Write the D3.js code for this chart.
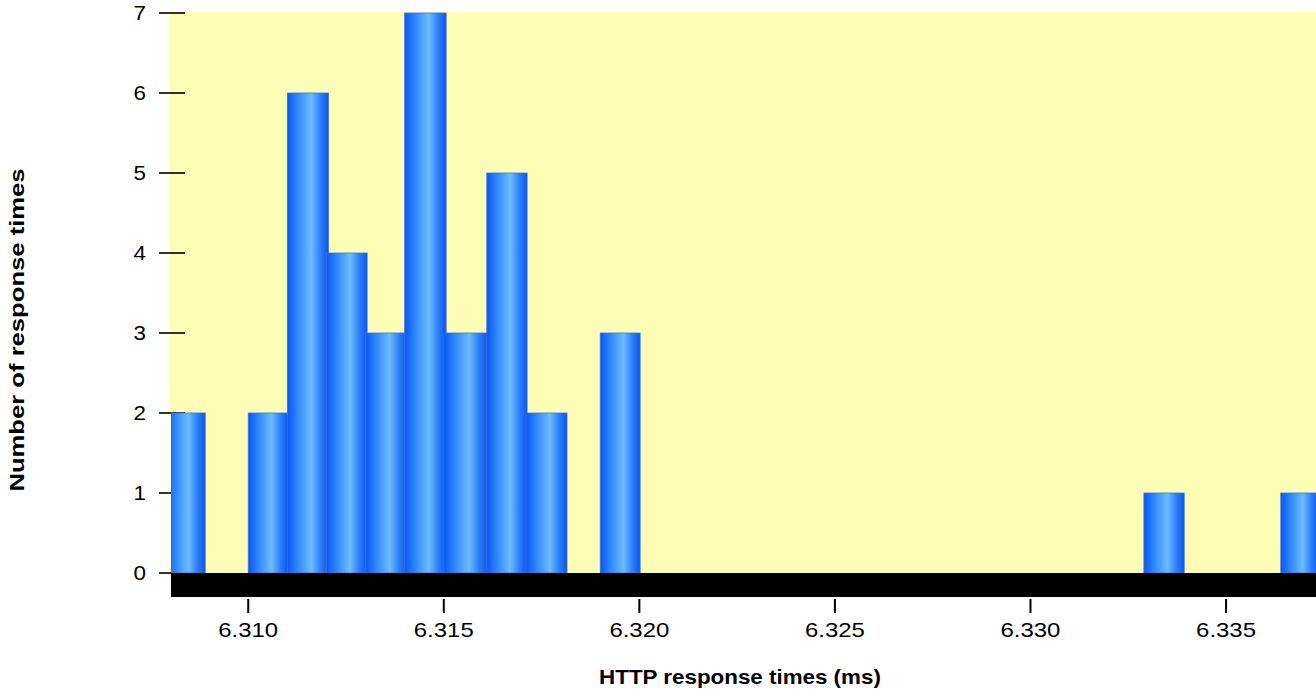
<!DOCTYPE html>
<html>
<head>
<meta charset="utf-8">
<script src="https://cdn.jsdelivr.net/npm/d3@7/dist/d3.min.js"></script>
<style>
  html, body { margin: 0; padding: 0; background: #ffffff; overflow: hidden; }
  svg { display: block; }
  text { font-family: "Liberation Sans", Arial, Helvetica, sans-serif; fill: #000; }
</style>
</head>
<body>
<svg id="chart" width="1316" height="693"></svg>
<script>
// ---- data ----
const binStart = [6.30788, 6.3100, 6.3110, 6.3120, 6.3130, 6.3140, 6.3150, 6.3161, 6.3171, 6.3190, 6.3329, 6.3364];
const binEnd   = [6.30890, 6.31102, 6.31205, 6.31304, 6.31406, 6.31506, 6.31611, 6.31713, 6.31815, 6.32002, 6.33393, 6.33737];
const counts   = [2, 2, 6, 4, 3, 7, 3, 5, 2, 3, 1, 1];
const xTickValues = [6.310, 6.315, 6.320, 6.325, 6.330, 6.335];
const yTickValues = [0, 1, 2, 3, 4, 5, 6, 7];
const xTitle = "HTTP response times (ms)";
const yTitle = "Number of response times";

(function () {
const bars = binStart.map((s, i) => ({ x0: s, x1: binEnd[i], n: counts[i] }));

const svg = d3.select("#chart");
const pLeft = 170, pRight = 1316, pTop = 13, pBottom = 573;

const x = d3.scaleLinear().domain([6.308, 6.3373]).range([pLeft, pRight]);
const y = d3.scaleLinear().domain([0, 7]).range([pBottom, pTop]);

// stretch text along its baseline (reference glyphs are wider than plain Arial)
function widen(sel, factor) {
  sel.each(function () {
    const w = this.getComputedTextLength();
    d3.select(this).attr("textLength", w * factor).attr("lengthAdjust", "spacingAndGlyphs");
  });
}

const defs = svg.append("defs");
const grad = defs.append("linearGradient").attr("id", "barGrad")
  .attr("x1", "0%").attr("x2", "100%").attr("y1", "0%").attr("y2", "0%");
[["0%", "#0a56f5"], ["25%", "#2f86fb"], ["58%", "#6cbcff"], ["80%", "#2f80f8"], ["100%", "#0b55ee"]]
  .forEach(([o, c]) => grad.append("stop").attr("offset", o).attr("stop-color", c));

defs.append("clipPath").attr("id", "plotClip")
  .append("rect").attr("x", pLeft + 1).attr("y", 0).attr("width", pRight - pLeft).attr("height", pBottom);

// plot background
svg.append("rect").attr("x", pLeft).attr("y", pTop - 1)
  .attr("width", pRight - pLeft).attr("height", pBottom - pTop + 1)
  .attr("fill", "#fdfdb5");

// y axis ticks and labels
const yAxis = svg.append("g");
yAxis.selectAll("line").data(yTickValues).join("line")
  .attr("x1", 159).attr("x2", 185)
  .attr("y1", d => y(d)).attr("y2", d => y(d))
  .attr("stroke", "#000").attr("stroke-width", 1.6);
yAxis.selectAll("text").data(yTickValues).join("text")
  .attr("x", 146).attr("y", d => y(d)).attr("dy", "0.36em")
  .attr("text-anchor", "end").attr("font-size", 20)
  .text(d => d)
  .call(widen, 1.12);

// bars
svg.append("g").attr("clip-path", "url(#plotClip)")
  .selectAll("rect").data(bars).join("rect")
  .attr("x", d => x(d.x0)).attr("width", d => x(d.x1) - x(d.x0))
  .attr("y", d => y(d.n)).attr("height", d => y(0) - y(d.n))
  .attr("fill", "url(#barGrad)")
  .attr("stroke", "#3f6fd8").attr("stroke-width", 0.8);

// black axis band
svg.append("rect").attr("x", pLeft + 1).attr("y", pBottom)
  .attr("width", pRight - pLeft).attr("height", 24).attr("fill", "#000");

// x axis ticks and labels
const xAxis = svg.append("g");
xAxis.selectAll("line").data(xTickValues).join("line")
  .attr("x1", d => x(d)).attr("x2", d => x(d))
  .attr("y1", 599).attr("y2", 613)
  .attr("stroke", "#000").attr("stroke-width", 2);
xAxis.selectAll("text").data(xTickValues).join("text")
  .attr("x", d => x(d)).attr("y", 637)
  .attr("text-anchor", "middle").attr("font-size", 21)
  .text(d => d3.format(".3f")(d))
  .call(widen, 1.14);

// axis titles
svg.append("text").attr("x", 740).attr("y", 684)
  .attr("text-anchor", "middle").attr("font-size", 21).attr("font-weight", "bold")
  .text(xTitle)
  .call(widen, 1.065);
svg.append("text").attr("transform", "translate(24,330) rotate(-90)")
  .attr("text-anchor", "middle").attr("font-size", 21).attr("font-weight", "bold")
  .text(yTitle)
  .call(widen, 1.22);
})();
</script>
</body>
</html>
